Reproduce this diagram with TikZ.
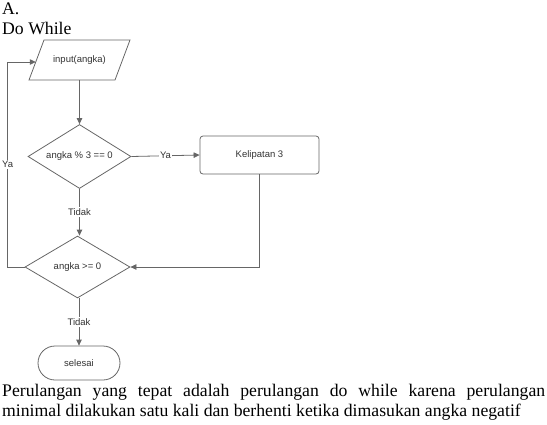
\documentclass[tikz,border=0pt]{standalone}
\usepackage{fontspec}
\setmainfont{Liberation Serif}
\newfontfamily\diagfont{Liberation Sans}
\usetikzlibrary{shapes.geometric,shapes.misc,arrows.meta,calc}
\definecolor{lnc}{HTML}{666666}
\definecolor{txc}{HTML}{333333}
\tikzset{
  shp/.style={draw=lnc, line width=0.8pt, text=txc, font=\diagfont\fontsize{9.5}{11}\selectfont, inner sep=0pt},
  arr/.style={draw=lnc, line width=0.8pt, -{Triangle[width=5.5pt,length=6pt]}},
  ln/.style={draw=lnc, line width=0.8pt},
  lab/.style={fill=white, text=txc, font=\diagfont\fontsize{9.5}{11}\selectfont, inner sep=1.5pt},
  big/.style={font=\fontsize{17.7}{20}\selectfont, inner sep=0pt}
}
\begin{document}
\begin{tikzpicture}[x=1pt,y=-1pt]
\useasboundingbox (0,0) rectangle (547,424);
\node[big, anchor=base west] (ta) at (2,14) {A.};
\node[big, anchor=base west] (tb) at (2,34) {Do While};
% input parallelogram
\node[shp, draw=none, minimum width=86pt, minimum height=40pt] (inp) at (79.5,60) {input(angka)};
\draw[ln, line join=miter] ($(inp.center)+(-35.5,-20)$) -- ($(inp.center)+(50.5,-20)$) -- ($(inp.center)+(35.5,20)$) -- ($(inp.center)+(-50.5,20)$) -- cycle;
\coordinate (inpL) at ($(inp.center)+(-43.75,2)$);
\node[shp, diamond, aspect=1.6, minimum width=103pt, minimum height=64pt] (d1) at (79.5,156.5) {angka \% 3 == 0};
\node[shp, rectangle, rounded corners=3pt, minimum width=119pt, minimum height=38pt] (kel) at (259.5,155) {Kelipatan 3};
\node[shp, diamond, aspect=1.69, minimum width=105pt, minimum height=62pt] (d2) at (77.5,267) {angka >= 0};
\node[shp, rounded rectangle, minimum width=82pt, minimum height=34pt] (sel) at (79,363) {selesai};
\draw[arr] (inp.south -| d1.north) -- (d1.north);
\draw[arr] (d1.east) -- node[lab]{Ya} (kel.west);
\draw[arr] (d1.south) -- node[lab]{Tidak} (d2.north -| d1.south);
\draw[arr] (kel.south) |- (d2.east);
\draw[arr] (d2.west) -- ++(-17,0) |- node[lab, pos=0.25]{Ya} (inpL);
\draw[arr] (d2.south -| sel.north) -- node[lab]{Tidak} (sel.north);
\node[big, anchor=north west, text width=543pt, align=justify] (par) at (2,384.5) {Perulangan yang tepat adalah perulangan do while karena perulangan\linebreak minimal dilakukan satu kali dan berhenti ketika dimasukan angka negatif};
\end{tikzpicture}
\end{document}
